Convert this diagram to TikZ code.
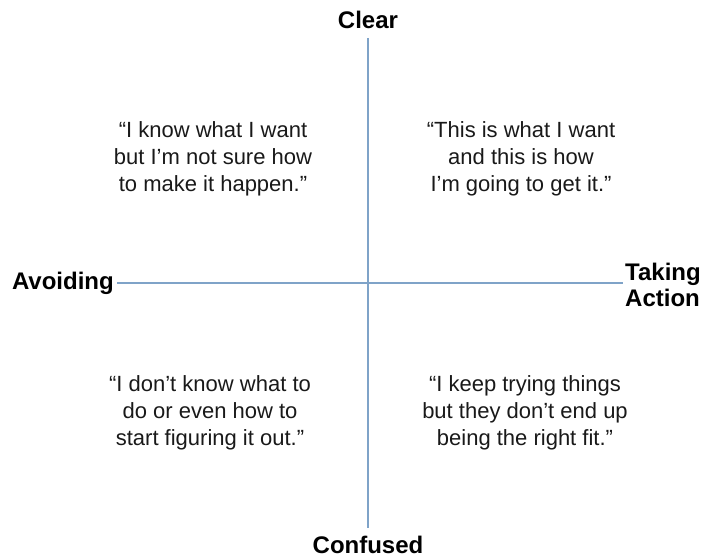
\documentclass[tikz,border=0pt]{standalone}
\usepackage{fontspec}
\setmainfont{Liberation Sans}
\definecolor{axis}{HTML}{7FA3C8}
\begin{document}
\begin{tikzpicture}[x=1pt,y=-1pt,
  quote/.style={align=center,font=\fontsize{22}{27}\selectfont,inner sep=0pt,text=black!90},
  lab/.style={font=\fontsize{24}{26}\selectfont\bfseries,inner sep=0pt},
  axisline/.style={draw=axis,line width=1.6pt}]
\useasboundingbox (0,0) rectangle (704,559);
\node[lab] (clear) at (368,20) {Clear};
\node[lab] (confused) at (368,545) {Confused};
\node[lab,anchor=east] (avoid) at (114,283) {Avoiding};
\node[lab,anchor=west,align=left] (take) at (625,285) {Taking\\Action};
\coordinate (top) at (368,38);
\coordinate (bot) at (368,528);
\coordinate (left) at (117,283);
\coordinate (right) at (623,283);
\draw[axisline] (top) -- (bot);
\draw[axisline] (left) -- (right);
\node[quote] (q1) at (213,159) {“I know what I want\\but I’m not sure how\\to make it happen.”};
\node[quote] (q2) at (521,159) {“This is what I want\\and this is how\\I’m going to get it.”};
\node[quote] (q3) at (210,413) {“I don’t know what to\\do or even how to\\start figuring it out.”};
\node[quote] (q4) at (525,413) {“I keep trying things\\but they don’t end up\\being the right fit.”};
\end{tikzpicture}
\end{document}
